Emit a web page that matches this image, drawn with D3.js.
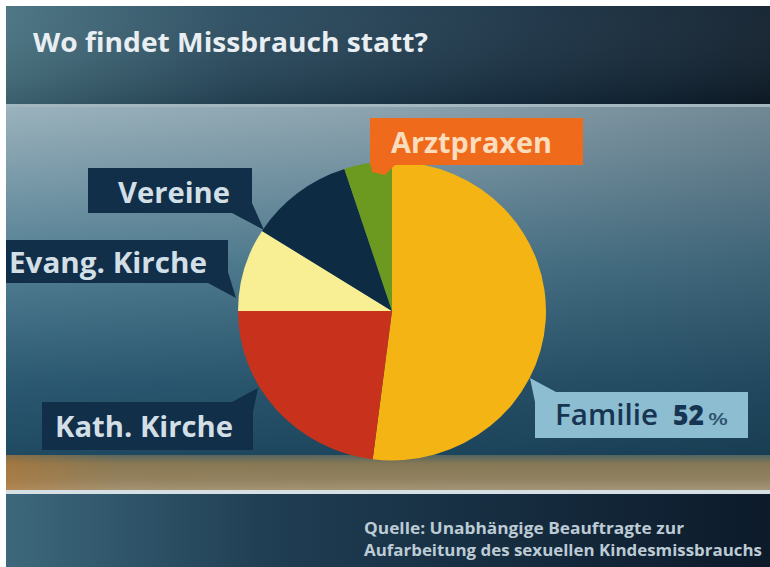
<!DOCTYPE html>
<html><head><meta charset="utf-8">
<script src="https://cdn.jsdelivr.net/npm/d3@7"></script>
<style>html,body{margin:0;padding:0;background:#fff;overflow:hidden}</style>
</head><body><svg id="c" width="770" height="567"></svg>
<script>
const titleText = "Wo findet Missbrauch statt?";
const categories = ["Familie", "Kath. Kirche", "Evang. Kirche", "Vereine", "Arztpraxen"];
const values = [52, 23, 9, 11, 5];
const sliceColors = ["#f3b414", "#c8321d", "#f8ee94", "#0d2c44", "#6c991f"];
const sourceLines = ["Quelle: Unabhängige Beauftragte zur", "Aufarbeitung des sexuellen Kindesmissbrauchs"];

const svg = d3.select("#c");
const defs = svg.append("defs");
function lin(id, x2, y2, stops) {
  const g = defs.append("linearGradient").attr("id", id).attr("x1", 0).attr("y1", 0).attr("x2", x2).attr("y2", y2);
  stops.forEach(s => g.append("stop").attr("offset", s[0]).attr("stop-color", s[1]).attr("stop-opacity", s[2] == null ? 1 : s[2]));
}
lin("gTitle", 1, 0, [[0, "#45707f"], [0.3, "#284a5e"], [0.7, "#172f42"], [1, "#0e1d2b"]]);
lin("gTitleV", 0, 1, [[0, "#ffffff", 0.05], [1, "#000000", 0.15]]);
lin("gMid", 0, 1, [[0, "#9ab2bc"], [0.12, "#88a4b1"], [0.45, "#527f93"], [0.8, "#2a5870"], [1, "#1f4a62"]]);
lin("gMidH", 1, 0, [[0, "#0a1e30", 0], [0.5, "#0a1e30", 0.1], [1, "#0a1e30", 0.28]]);
lin("gBrown", 0, 1, [[0, "#4f6462"], [0.25, "#857856"], [0.7, "#918262"], [1, "#a39679"]]);
lin("gBrownH", 1, 0, [[0, "#c0782c", 0.5], [0.15, "#b07a3a", 0.1], [1, "#8a7a5a", 0]]);
lin("gBottom", 1, 0, [[0, "#3d687c"], [0.35, "#1f3d53"], [1, "#0c1a2a"]]);

svg.append("rect").attr("width", 770).attr("height", 567).attr("fill", "#ffffff");
svg.append("rect").attr("x", 6).attr("y", 6).attr("width", 764).attr("height", 98).attr("fill", "url(#gTitle)");
svg.append("rect").attr("x", 6).attr("y", 6).attr("width", 764).attr("height", 98).attr("fill", "url(#gTitleV)");
svg.append("rect").attr("x", 6).attr("y", 104).attr("width", 764).attr("height", 3).attr("fill", "#a3b7c0");
svg.append("rect").attr("x", 6).attr("y", 107).attr("width", 764).attr("height", 348).attr("fill", "url(#gMid)");
svg.append("rect").attr("x", 6).attr("y", 107).attr("width", 764).attr("height", 348).attr("fill", "url(#gMidH)");
svg.append("rect").attr("x", 6).attr("y", 455).attr("width", 764).attr("height", 35).attr("fill", "url(#gBrown)");
svg.append("rect").attr("x", 6).attr("y", 455).attr("width", 764).attr("height", 35).attr("fill", "url(#gBrownH)");
svg.append("rect").attr("x", 6).attr("y", 490).attr("width", 764).attr("height", 4).attr("fill", "#d6dfe3");
svg.append("rect").attr("x", 6).attr("y", 494).attr("width", 764).attr("height", 73).attr("fill", "url(#gBottom)");

const FONT = "'Open Sans', 'DejaVu Sans', sans-serif";

svg.append("text").text(titleText)
  .attr("x", 33).attr("y", 52)
  .attr("font-family", FONT).attr("font-weight", 700).attr("font-size", 26)
  .attr("fill", "#e8eef2").attr("textLength", 395).attr("lengthAdjust", "spacingAndGlyphs");

// Pie
const cx = 392, cy = 311, R = 154;
const pie = d3.pie().sort(null).value(d => d).startAngle(0).endAngle(2 * Math.PI);
const arc = d3.arc().innerRadius(0).outerRadius(R);
const arcs = pie(values);
const pg = svg.append("g").attr("transform", `translate(${cx},${cy}) scale(1,0.97)`);
pg.selectAll("path").data(arcs).enter().append("path")
  .attr("d", arc).attr("fill", (d, i) => sliceColors[i]);

// labels: box, pointer polygon, text
const labelLayout = [
  { i: 0, box: [535, 392, 213, 46], ptr: [[535, 402], [535, 392], [556, 392], [530, 378]], fill: "#8dbdd1", color: "#173552", tx: 555, ty: 425, tl: 103, fs: 28 },
  { i: 1, box: [42, 402, 211, 48], ptr: [[232, 402], [253, 402], [253, 412], [258, 388]], fill: "#112f48", color: "#d3dfe7", tx: 55, ty: 437, tl: 178, fs: 28 },
  { i: 2, box: [6, 240, 222, 43], ptr: [[208, 283], [228, 283], [228, 272], [236, 298]], fill: "#112f48", color: "#d3dfe7", tx: 9, ty: 273, tl: 198, fs: 28 },
  { i: 3, box: [88, 168, 164, 45], ptr: [[232, 213], [252, 213], [252, 203], [264, 230]], fill: "#112f48", color: "#d3dfe7", tx: 118, ty: 203, tl: 112, fs: 28 },
  { i: 4, box: [370, 118, 213, 47], ptr: [[370, 158], [395, 165], [385, 175], [372, 172]], fill: "#f06a1c", color: "#fbdcbc", tx: 391, ty: 153, tl: 161, fs: 28 }
];
labelLayout.forEach(L => {
  const g = svg.append("g");
  g.append("polygon").attr("points", L.ptr.map(p => p.join(",")).join(" ")).attr("fill", L.fill);
  g.append("rect").attr("x", L.box[0]).attr("y", L.box[1]).attr("width", L.box[2]).attr("height", L.box[3]).attr("fill", L.fill);
  g.append("text").text(categories[L.i])
    .attr("x", L.tx).attr("y", L.ty)
    .attr("font-family", FONT).attr("font-weight", L.i === 0 ? 600 : 700).attr("font-size", L.fs)
    .attr("fill", L.color).attr("textLength", L.tl).attr("lengthAdjust", "spacingAndGlyphs");
  if (L.i === 0) {
    g.append("text").text(String(values[0]))
      .attr("x", 673).attr("y", L.ty)
      .attr("font-family", FONT).attr("font-weight", 800).attr("font-size", 28)
      .attr("fill", L.color).attr("textLength", 31).attr("lengthAdjust", "spacingAndGlyphs");
    g.append("text").text("%")
      .attr("x", 708).attr("y", L.ty)
      .attr("font-family", FONT).attr("font-weight", 600).attr("font-size", 16)
      .attr("fill", "#2f5470").attr("textLength", 20).attr("lengthAdjust", "spacingAndGlyphs");
  }
});

// source
const srcLens = [320, 398];
sourceLines.forEach((s, k) => {
  svg.append("text").text(s)
    .attr("x", 364).attr("y", 534 + k * 21.5)
    .attr("font-family", FONT).attr("font-weight", 700).attr("font-size", 15.5)
    .attr("fill", "#bccbd5").attr("textLength", srcLens[k]).attr("lengthAdjust", "spacingAndGlyphs");
});
</script></body></html>
